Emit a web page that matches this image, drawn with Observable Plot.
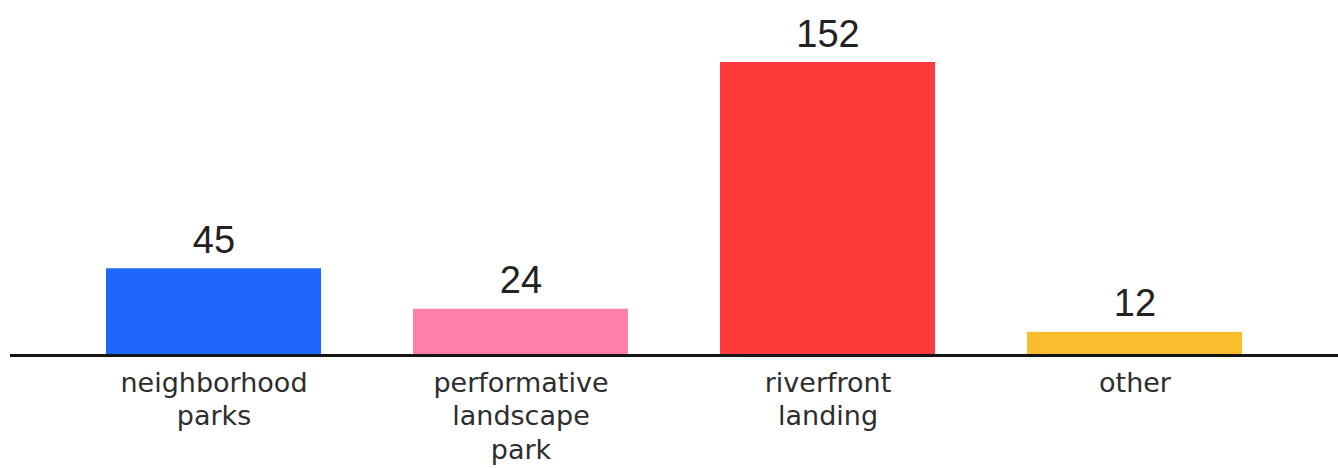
<!DOCTYPE html>
<html>
<head>
<meta charset="utf-8">
<script src="https://cdn.jsdelivr.net/npm/d3@7"></script>
<script src="https://cdn.jsdelivr.net/npm/@observablehq/plot@0.6"></script>
<style>
  html, body { margin: 0; padding: 0; background: #fff; }
  #chart svg { display: block; }
</style>
</head>
<body>
<div id="chart"></div>
<script>
const categories = ["neighborhood\nparks", "performative\nlandscape\npark", "riverfront\nlanding", "other"];
const values = [45, 24, 152, 12];
const colors = ["#1f66fb", "#ff7eab", "#ff3a3a", "#fbbd2e"];

const data = categories.map((c, i) => ({category: c, value: values[i], color: colors[i]}));

const chart = Plot.plot({
  width: 1338,
  height: 468,
  marginLeft: 10,
  marginRight: 0,
  marginTop: 62,
  marginBottom: 113,
  style: {background: "#fff"},
  x: {type: "band", domain: categories, paddingInner: 0.3, paddingOuter: 0.31, align: 0.5, axis: null},
  y: {domain: [0, 152], axis: null},
  marks: [
    Plot.barY(data, {x: "category", y: "value", fill: "color"}),
    Plot.ruleY([0], {stroke: "#151515", strokeWidth: 3}),
    Plot.text(data, {x: "category", y: "value", text: d => String(d.value), dy: -16, lineAnchor: "bottom",
      fontSize: 38, fill: "#222", fontFamily: "Liberation Sans, Arial, sans-serif"}),
    Plot.text(data, {x: "category", y: () => 0, text: "category", dy: 13, lineAnchor: "top",
      fontSize: 27, lineHeight: 1.233, fill: "#2d2d2d", fontFamily: "DejaVu Sans, sans-serif"})
  ]
});
document.getElementById("chart").appendChild(chart);
</script>
</body>
</html>
